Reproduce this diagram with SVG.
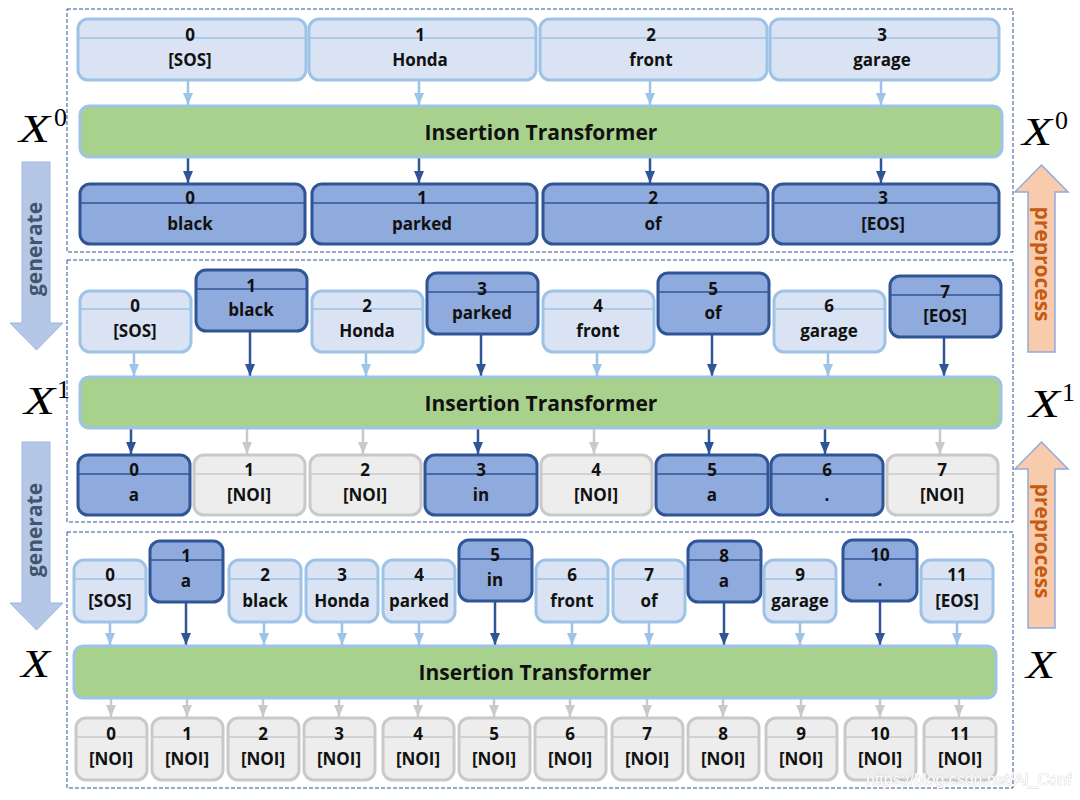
<svg xmlns="http://www.w3.org/2000/svg" width="1080" height="800" viewBox="0 0 1080 800">
<defs>
<style>
.panel{fill:none;stroke:#2F5597;stroke-width:1;stroke-dasharray:4 2}
.lt rect{fill:#DAE3F3;stroke:#9DC3E6;stroke-width:3}
.lt line{stroke:#9DC3E6;stroke-width:1.5}
.dk rect{fill:#8FAADC;stroke:#2F5597;stroke-width:3}
.dk line{stroke:#2F5597;stroke-width:1.5}
.gy rect{fill:#EDEDED;stroke:#C9C9C9;stroke-width:3}
.gy line{stroke:#C9C9C9;stroke-width:1.5}
.t{font-family:"Open Sans","Liberation Sans",sans-serif;font-weight:bold;font-size:17px;fill:#111;text-anchor:middle}
.bar{fill:#A9D18E;stroke:#9DC3E6;stroke-width:3}
.bt{font-family:"Open Sans","Liberation Sans",sans-serif;font-weight:bold;font-size:21px;fill:#111;text-anchor:middle}
.cl{stroke:#9DC3E6;stroke-width:2.5;fill:none;marker-end:url(#ml)}
.cd{stroke:#2F5597;stroke-width:2.5;fill:none;marker-end:url(#md)}
.cg{stroke:#C9C9C9;stroke-width:2.5;fill:none;marker-end:url(#mg)}
.xm{font-family:"Liberation Serif","DejaVu Serif",serif;font-style:italic;font-size:41px;fill:#000}
.sup{font-family:"Liberation Serif","DejaVu Serif",serif;font-size:26px;fill:#000}
.gen{fill:#B4C7E7;stroke:#9DB5DE;stroke-width:1}
.gent{font-family:"Open Sans","Liberation Sans",sans-serif;font-weight:bold;font-size:21px;fill:#44546A;text-anchor:middle}
.pre{fill:#F8CBAD;stroke:#8FAADC;stroke-width:1.5}
.pret{font-family:"Open Sans","Liberation Sans",sans-serif;font-weight:bold;font-size:21px;fill:#C55A11;text-anchor:middle}
</style>
<marker id="ml" markerUnits="userSpaceOnUse" markerWidth="12" markerHeight="10" viewBox="0 0 12 10" refX="12" refY="5" orient="auto"><path d="M0,0 L12,5 L0,10 Z" fill="#9DC3E6"/></marker>
<marker id="md" markerUnits="userSpaceOnUse" markerWidth="12" markerHeight="10" viewBox="0 0 12 10" refX="12" refY="5" orient="auto"><path d="M0,0 L12,5 L0,10 Z" fill="#2F5597"/></marker>
<marker id="mg" markerUnits="userSpaceOnUse" markerWidth="12" markerHeight="10" viewBox="0 0 12 10" refX="12" refY="5" orient="auto"><path d="M0,0 L12,5 L0,10 Z" fill="#C9C9C9"/></marker>
</defs>
<rect width="1080" height="800" fill="#fff"/>

<!-- panels -->
<rect class="panel" x="67" y="9" width="946" height="243"/>
<rect class="panel" x="67" y="260" width="946" height="262"/>
<rect class="panel" x="67" y="532" width="946" height="256"/>

<!-- side arrows -->
<g id="generate1"><path class="gen" d="M22,162 H50 V323 H63 L36.5,350 L10,323 H22 Z"/><text class="gent" transform="translate(36,249) rotate(-90)" y="6">generate</text></g>
<g id="generate2"><path class="gen" d="M22,442 H50 V603 H63 L36.5,630 L10,603 H22 Z"/><text class="gent" transform="translate(36,530) rotate(-90)" y="6">generate</text></g>
<g id="preprocess1"><path class="pre" d="M1028,352 V192 H1015 L1041.5,165 L1068,192 H1055 V352 Z"/><text class="pret" transform="translate(1041,264) rotate(90)" y="6">preprocess</text></g>
<g id="preprocess2"><path class="pre" d="M1028,628 V469 H1015 L1041.5,442 L1068,469 H1055 V628 Z"/><text class="pret" transform="translate(1041,541) rotate(90)" y="6">preprocess</text></g>

<!-- X labels -->
<g id="labels">
<text class="xm" x="19" y="142" textLength="31" lengthAdjust="spacingAndGlyphs">X</text><text class="sup" x="54" y="126">0</text>
<text class="xm" x="1022" y="145" textLength="30" lengthAdjust="spacingAndGlyphs">X</text><text class="sup" x="1055" y="129">0</text>
<text class="xm" x="24" y="414" textLength="31" lengthAdjust="spacingAndGlyphs">X</text><text class="sup" x="57" y="398">1</text>
<text class="xm" x="1029" y="417" textLength="31" lengthAdjust="spacingAndGlyphs">X</text><text class="sup" x="1062" y="401">1</text>
<text class="xm" x="21" y="677" textLength="29" lengthAdjust="spacingAndGlyphs">X</text>
<text class="xm" x="1026" y="678" textLength="29" lengthAdjust="spacingAndGlyphs">X</text>
</g>

<!-- connectors -->
<g id="connectors">
<!-- panel 1 -->
<line class="cl" x1="188" y1="81" x2="188" y2="105"/>
<line class="cl" x1="419" y1="81" x2="419" y2="105"/>
<line class="cl" x1="650" y1="81" x2="650" y2="105"/>
<line class="cl" x1="881" y1="81" x2="881" y2="105"/>
<line class="cd" x1="188" y1="158" x2="188" y2="183"/>
<line class="cd" x1="419" y1="158" x2="419" y2="183"/>
<line class="cd" x1="650" y1="158" x2="650" y2="183"/>
<line class="cd" x1="881" y1="158" x2="881" y2="183"/>
<!-- panel 2 top -->
<line class="cl" x1="134" y1="353" x2="134" y2="376"/>
<line class="cd" x1="250" y1="332" x2="250" y2="376"/>
<line class="cl" x1="366" y1="353" x2="366" y2="376"/>
<line class="cd" x1="481" y1="335" x2="481" y2="376"/>
<line class="cl" x1="597" y1="353" x2="597" y2="376"/>
<line class="cd" x1="712" y1="335" x2="712" y2="376"/>
<line class="cl" x1="828" y1="353" x2="828" y2="376"/>
<line class="cd" x1="944" y1="338" x2="944" y2="376"/>
<!-- panel 2 bottom -->
<line class="cd" x1="131" y1="429" x2="131" y2="454"/>
<line class="cg" x1="247" y1="429" x2="247" y2="454"/>
<line class="cg" x1="363" y1="429" x2="363" y2="454"/>
<line class="cd" x1="478" y1="429" x2="478" y2="454"/>
<line class="cg" x1="594" y1="429" x2="594" y2="454"/>
<line class="cd" x1="709" y1="429" x2="709" y2="454"/>
<line class="cd" x1="825" y1="429" x2="825" y2="454"/>
<line class="cg" x1="940" y1="429" x2="940" y2="454"/>
<!-- panel 3 top -->
<line class="cl" x1="110" y1="623" x2="110" y2="645"/>
<line class="cd" x1="186" y1="603" x2="186" y2="645"/>
<line class="cl" x1="264" y1="623" x2="264" y2="645"/>
<line class="cl" x1="342" y1="623" x2="342" y2="645"/>
<line class="cl" x1="419" y1="623" x2="419" y2="645"/>
<line class="cd" x1="495" y1="602" x2="495" y2="645"/>
<line class="cl" x1="572" y1="623" x2="572" y2="645"/>
<line class="cl" x1="649" y1="623" x2="649" y2="645"/>
<line class="cd" x1="724" y1="603" x2="724" y2="645"/>
<line class="cl" x1="800" y1="623" x2="800" y2="645"/>
<line class="cd" x1="880" y1="602" x2="880" y2="645"/>
<line class="cl" x1="957" y1="623" x2="957" y2="645"/>
<!-- panel 3 bottom -->
<line class="cg" x1="111" y1="699" x2="111" y2="717"/>
<line class="cg" x1="187" y1="699" x2="187" y2="717"/>
<line class="cg" x1="263" y1="699" x2="263" y2="717"/>
<line class="cg" x1="339" y1="699" x2="339" y2="717"/>
<line class="cg" x1="418" y1="699" x2="418" y2="717"/>
<line class="cg" x1="494" y1="699" x2="494" y2="717"/>
<line class="cg" x1="570" y1="699" x2="570" y2="717"/>
<line class="cg" x1="647" y1="699" x2="647" y2="717"/>
<line class="cg" x1="723" y1="699" x2="723" y2="717"/>
<line class="cg" x1="801" y1="699" x2="801" y2="717"/>
<line class="cg" x1="880" y1="699" x2="880" y2="717"/>
<line class="cg" x1="959" y1="699" x2="959" y2="717"/>
</g>

<!-- panel 1 nodes -->
<g id="p1-in0" class="lt" transform="translate(78,19)"><rect width="228" height="61" rx="10"/><line x1="0" y1="19" x2="228" y2="19"/><text class="t" x="112" y="22">0</text><text class="t" x="112" y="47">[SOS]</text></g>
<g id="p1-in1" class="lt" transform="translate(309,19)"><rect width="227" height="61" rx="10"/><line x1="0" y1="19" x2="227" y2="19"/><text class="t" x="111" y="22">1</text><text class="t" x="111" y="47">Honda</text></g>
<g id="p1-in2" class="lt" transform="translate(540,19)"><rect width="227" height="61" rx="10"/><line x1="0" y1="19" x2="227" y2="19"/><text class="t" x="111" y="22">2</text><text class="t" x="111" y="47">front</text></g>
<g id="p1-in3" class="lt" transform="translate(770,19)"><rect width="229" height="61" rx="10"/><line x1="0" y1="19" x2="229" y2="19"/><text class="t" x="112" y="22">3</text><text class="t" x="112" y="47">garage</text></g>
<g id="p1-transformer"><rect class="bar" x="80" y="106" width="922" height="51" rx="9"/><text class="bt" x="541" y="139.5">Insertion Transformer</text></g>
<g id="p1-out0" class="dk" transform="translate(80,184)"><rect width="225" height="60" rx="10"/><line x1="0" y1="19" x2="225" y2="19"/><text class="t" x="110" y="20">0</text><text class="t" x="110" y="46">black</text></g>
<g id="p1-out1" class="dk" transform="translate(312,184)"><rect width="225" height="60" rx="10"/><line x1="0" y1="19" x2="225" y2="19"/><text class="t" x="110" y="20">1</text><text class="t" x="110" y="46">parked</text></g>
<g id="p1-out2" class="dk" transform="translate(543,184)"><rect width="225" height="60" rx="10"/><line x1="0" y1="19" x2="225" y2="19"/><text class="t" x="110" y="20">2</text><text class="t" x="110" y="46">of</text></g>
<g id="p1-out3" class="dk" transform="translate(773,184)"><rect width="226" height="60" rx="10"/><line x1="0" y1="19" x2="226" y2="19"/><text class="t" x="110" y="20">3</text><text class="t" x="110" y="46">[EOS]</text></g>

<!-- panel 2 nodes -->
<g id="p2-in0" class="lt" transform="translate(80,291)"><rect width="111" height="61" rx="10"/><line x1="0" y1="18" x2="111" y2="18"/><text class="t" x="55" y="21">0</text><text class="t" x="55" y="46">[SOS]</text></g>
<g id="p2-in1" class="dk" transform="translate(196,270)"><rect width="111" height="61" rx="10"/><line x1="0" y1="19" x2="111" y2="19"/><text class="t" x="55" y="22">1</text><text class="t" x="55" y="46">black</text></g>
<g id="p2-in2" class="lt" transform="translate(312,291)"><rect width="111" height="61" rx="10"/><line x1="0" y1="18" x2="111" y2="18"/><text class="t" x="55" y="21">2</text><text class="t" x="55" y="46">Honda</text></g>
<g id="p2-in3" class="dk" transform="translate(427,273)"><rect width="111" height="61" rx="10"/><line x1="0" y1="19" x2="111" y2="19"/><text class="t" x="55" y="22">3</text><text class="t" x="55" y="46">parked</text></g>
<g id="p2-in4" class="lt" transform="translate(543,291)"><rect width="111" height="61" rx="10"/><line x1="0" y1="18" x2="111" y2="18"/><text class="t" x="55" y="21">4</text><text class="t" x="55" y="46">front</text></g>
<g id="p2-in5" class="dk" transform="translate(658,273)"><rect width="111" height="61" rx="10"/><line x1="0" y1="19" x2="111" y2="19"/><text class="t" x="55" y="22">5</text><text class="t" x="55" y="46">of</text></g>
<g id="p2-in6" class="lt" transform="translate(774,291)"><rect width="111" height="61" rx="10"/><line x1="0" y1="18" x2="111" y2="18"/><text class="t" x="55" y="21">6</text><text class="t" x="55" y="46">garage</text></g>
<g id="p2-in7" class="dk" transform="translate(890,276)"><rect width="111" height="61" rx="10"/><line x1="0" y1="19" x2="111" y2="19"/><text class="t" x="55" y="22">7</text><text class="t" x="55" y="46">[EOS]</text></g>
<g id="p2-transformer"><rect class="bar" x="80" y="377" width="921" height="51" rx="9"/><text class="bt" x="541" y="410.5">Insertion Transformer</text></g>
<g id="p2-out0" class="dk" transform="translate(78,455)"><rect width="112" height="60" rx="10"/><line x1="0" y1="19" x2="112" y2="19"/><text class="t" x="56" y="21">0</text><text class="t" x="56" y="46">a</text></g>
<g id="p2-out1" class="gy" transform="translate(194,455)"><rect width="111" height="60" rx="10"/><line x1="0" y1="19" x2="111" y2="19"/><text class="t" x="55" y="21">1</text><text class="t" x="55" y="46">[NOI]</text></g>
<g id="p2-out2" class="gy" transform="translate(310,455)"><rect width="111" height="60" rx="10"/><line x1="0" y1="19" x2="111" y2="19"/><text class="t" x="55" y="21">2</text><text class="t" x="55" y="46">[NOI]</text></g>
<g id="p2-out3" class="dk" transform="translate(425,455)"><rect width="112" height="60" rx="10"/><line x1="0" y1="19" x2="112" y2="19"/><text class="t" x="56" y="21">3</text><text class="t" x="56" y="46">in</text></g>
<g id="p2-out4" class="gy" transform="translate(541,455)"><rect width="111" height="60" rx="10"/><line x1="0" y1="19" x2="111" y2="19"/><text class="t" x="55" y="21">4</text><text class="t" x="55" y="46">[NOI]</text></g>
<g id="p2-out5" class="dk" transform="translate(656,455)"><rect width="112" height="60" rx="10"/><line x1="0" y1="19" x2="112" y2="19"/><text class="t" x="56" y="21">5</text><text class="t" x="56" y="46">a</text></g>
<g id="p2-out6" class="dk" transform="translate(771,455)"><rect width="112" height="60" rx="10"/><line x1="0" y1="19" x2="112" y2="19"/><text class="t" x="56" y="21">6</text><text class="t" x="56" y="46">.</text></g>
<g id="p2-out7" class="gy" transform="translate(887,455)"><rect width="111" height="60" rx="10"/><line x1="0" y1="19" x2="111" y2="19"/><text class="t" x="55" y="21">7</text><text class="t" x="55" y="46">[NOI]</text></g>

<!-- panel 3 nodes -->
<g id="p3-in0" class="lt" transform="translate(74,560)"><rect width="72" height="62" rx="10"/><line x1="0" y1="19" x2="72" y2="19"/><text class="t" x="36" y="21">0</text><text class="t" x="36" y="47">[SOS]</text></g>
<g id="p3-in1" class="dk" transform="translate(150,541)"><rect width="73" height="61" rx="10"/><line x1="0" y1="19" x2="73" y2="19"/><text class="t" x="36" y="21">1</text><text class="t" x="36" y="46">a</text></g>
<g id="p3-in2" class="lt" transform="translate(229,560)"><rect width="72" height="62" rx="10"/><line x1="0" y1="19" x2="72" y2="19"/><text class="t" x="36" y="21">2</text><text class="t" x="36" y="47">black</text></g>
<g id="p3-in3" class="lt" transform="translate(306,560)"><rect width="72" height="62" rx="10"/><line x1="0" y1="19" x2="72" y2="19"/><text class="t" x="36" y="21">3</text><text class="t" x="36" y="47">Honda</text></g>
<g id="p3-in4" class="lt" transform="translate(383,560)"><rect width="72" height="62" rx="10"/><line x1="0" y1="19" x2="72" y2="19"/><text class="t" x="36" y="21">4</text><text class="t" x="36" y="47">parked</text></g>
<g id="p3-in5" class="dk" transform="translate(459,540)"><rect width="73" height="61" rx="10"/><line x1="0" y1="19" x2="73" y2="19"/><text class="t" x="36" y="21">5</text><text class="t" x="36" y="46">in</text></g>
<g id="p3-in6" class="lt" transform="translate(536,560)"><rect width="72" height="62" rx="10"/><line x1="0" y1="19" x2="72" y2="19"/><text class="t" x="36" y="21">6</text><text class="t" x="36" y="47">front</text></g>
<g id="p3-in7" class="lt" transform="translate(613,560)"><rect width="72" height="62" rx="10"/><line x1="0" y1="19" x2="72" y2="19"/><text class="t" x="36" y="21">7</text><text class="t" x="36" y="47">of</text></g>
<g id="p3-in8" class="dk" transform="translate(688,541)"><rect width="73" height="61" rx="10"/><line x1="0" y1="19" x2="73" y2="19"/><text class="t" x="36" y="21">8</text><text class="t" x="36" y="46">a</text></g>
<g id="p3-in9" class="lt" transform="translate(764,560)"><rect width="72" height="62" rx="10"/><line x1="0" y1="19" x2="72" y2="19"/><text class="t" x="36" y="21">9</text><text class="t" x="36" y="47">garage</text></g>
<g id="p3-in10" class="dk" transform="translate(843,540)"><rect width="74" height="61" rx="10"/><line x1="0" y1="19" x2="74" y2="19"/><text class="t" x="37" y="21">10</text><text class="t" x="37" y="46">.</text></g>
<g id="p3-in11" class="lt" transform="translate(921,560)"><rect width="72" height="62" rx="10"/><line x1="0" y1="19" x2="72" y2="19"/><text class="t" x="36" y="21">11</text><text class="t" x="36" y="47">[EOS]</text></g>
<g id="p3-transformer"><rect class="bar" x="74" y="646" width="922" height="52" rx="9"/><text class="bt" x="535" y="679.5">Insertion Transformer</text></g>
<g id="p3-out0" class="gy" transform="translate(76,718)"><rect width="71" height="62" rx="10"/><line x1="0" y1="19" x2="71" y2="19"/><text class="t" x="35" y="22">0</text><text class="t" x="35" y="47">[NOI]</text></g>
<g id="p3-out1" class="gy" transform="translate(152,718)"><rect width="71" height="62" rx="10"/><line x1="0" y1="19" x2="71" y2="19"/><text class="t" x="35" y="22">1</text><text class="t" x="35" y="47">[NOI]</text></g>
<g id="p3-out2" class="gy" transform="translate(228,718)"><rect width="71" height="62" rx="10"/><line x1="0" y1="19" x2="71" y2="19"/><text class="t" x="35" y="22">2</text><text class="t" x="35" y="47">[NOI]</text></g>
<g id="p3-out3" class="gy" transform="translate(304,718)"><rect width="71" height="62" rx="10"/><line x1="0" y1="19" x2="71" y2="19"/><text class="t" x="35" y="22">3</text><text class="t" x="35" y="47">[NOI]</text></g>
<g id="p3-out4" class="gy" transform="translate(383,718)"><rect width="71" height="62" rx="10"/><line x1="0" y1="19" x2="71" y2="19"/><text class="t" x="35" y="22">4</text><text class="t" x="35" y="47">[NOI]</text></g>
<g id="p3-out5" class="gy" transform="translate(459,718)"><rect width="71" height="62" rx="10"/><line x1="0" y1="19" x2="71" y2="19"/><text class="t" x="35" y="22">5</text><text class="t" x="35" y="47">[NOI]</text></g>
<g id="p3-out6" class="gy" transform="translate(535,718)"><rect width="71" height="62" rx="10"/><line x1="0" y1="19" x2="71" y2="19"/><text class="t" x="35" y="22">6</text><text class="t" x="35" y="47">[NOI]</text></g>
<g id="p3-out7" class="gy" transform="translate(612,718)"><rect width="71" height="62" rx="10"/><line x1="0" y1="19" x2="71" y2="19"/><text class="t" x="35" y="22">7</text><text class="t" x="35" y="47">[NOI]</text></g>
<g id="p3-out8" class="gy" transform="translate(688,718)"><rect width="71" height="62" rx="10"/><line x1="0" y1="19" x2="71" y2="19"/><text class="t" x="35" y="22">8</text><text class="t" x="35" y="47">[NOI]</text></g>
<g id="p3-out9" class="gy" transform="translate(766,718)"><rect width="71" height="62" rx="10"/><line x1="0" y1="19" x2="71" y2="19"/><text class="t" x="35" y="22">9</text><text class="t" x="35" y="47">[NOI]</text></g>
<g id="p3-out10" class="gy" transform="translate(845,718)"><rect width="71" height="62" rx="10"/><line x1="0" y1="19" x2="71" y2="19"/><text class="t" x="35" y="22">10</text><text class="t" x="35" y="47">[NOI]</text></g>
<g id="p3-out11" class="gy" transform="translate(924,718)"><rect width="72" height="62" rx="10"/><line x1="0" y1="19" x2="72" y2="19"/><text class="t" x="36" y="22">11</text><text class="t" x="36" y="47">[NOI]</text></g>

<text x="866" y="785" font-family="'Liberation Sans',Arial,sans-serif" font-size="16" fill="#ffffff" stroke="#c8c8c8" stroke-width="0.7" paint-order="stroke">https://blog.csdn.net/AI_Conf</text>
</svg>
